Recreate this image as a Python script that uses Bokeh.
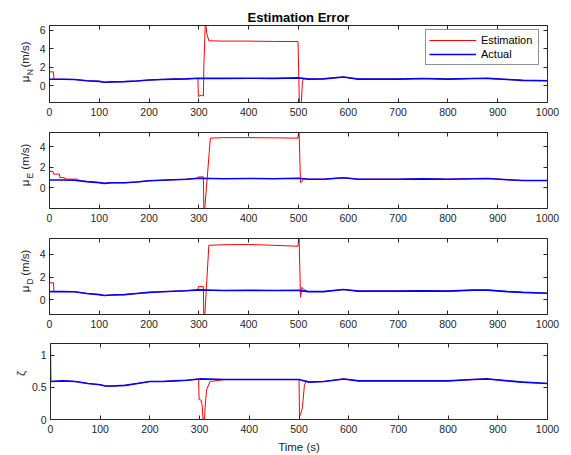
import math
from bokeh.plotting import figure
from bokeh.layouts import column, row
from bokeh.models import LinearAxis, FixedTicker, Range1d
from bokeh.core.properties import value
from bokeh.embed import file_html
from bokeh.resources import INLINE

FONT = "Liberation Sans"
AX = "#262626"
RED = "#ff0000"
BLUE = "#0000ff"

time_ticks = [0, 100, 200, 300, 400, 500, 600, 700, 800, 900, 1000]

# ---- Actual (blue) ----
t_act = [0, 25, 50, 75, 100, 110, 125, 150, 175, 200, 225, 250, 275, 300, 350, 400,
         450, 500, 520, 550, 590, 620, 650, 700, 750, 800, 850, 880, 920, 950, 1000]
muN_act = [0.70, 0.70, 0.68, 0.55, 0.48, 0.38, 0.42, 0.45, 0.52, 0.62, 0.68, 0.72, 0.75, 0.82, 0.80, 0.82,
           0.80, 0.85, 0.72, 0.75, 0.95, 0.72, 0.72, 0.72, 0.78, 0.72, 0.78, 0.80, 0.68, 0.58, 0.55]
muE_act = [0.78, 0.78, 0.75, 0.62, 0.52, 0.45, 0.50, 0.50, 0.58, 0.70, 0.75, 0.80, 0.85, 0.95, 0.90, 0.92,
           0.90, 0.95, 0.85, 0.85, 1.00, 0.85, 0.85, 0.85, 0.88, 0.85, 0.90, 0.92, 0.80, 0.72, 0.72]
muD_act = [0.72, 0.72, 0.70, 0.55, 0.45, 0.38, 0.42, 0.45, 0.55, 0.65, 0.70, 0.75, 0.80, 0.87, 0.82, 0.83,
           0.82, 0.83, 0.72, 0.72, 0.90, 0.76, 0.76, 0.76, 0.78, 0.76, 0.85, 0.85, 0.72, 0.65, 0.58]
zeta_act = [0.59, 0.60, 0.59, 0.56, 0.54, 0.52, 0.52, 0.53, 0.56, 0.59, 0.59, 0.60, 0.61, 0.63, 0.62, 0.62,
            0.62, 0.62, 0.58, 0.59, 0.63, 0.60, 0.60, 0.60, 0.60, 0.60, 0.62, 0.63, 0.60, 0.58, 0.56]

# ---- Estimation (red) ----
muN_est_t = [0, 8, 9, 25, 50, 75, 100, 110, 125, 150, 175, 200, 225, 250, 275, 298,
             299, 305, 309, 310, 313, 316, 320, 350, 400, 450, 499,
             502, 505, 508, 512, 520, 550, 590, 620, 650, 700, 750, 800, 850, 880, 920, 950, 1000]
muN_est = [1.5, 1.5, 0.70, 0.70, 0.68, 0.55, 0.48, 0.38, 0.42, 0.45, 0.52, 0.62, 0.68, 0.72, 0.75, 0.82,
           -1.15, -1.0, -1.1, 2.2, 7.0, 5.6, 4.85, 4.82, 4.82, 4.78, 4.78,
           -2.5, -2.5, 0.5, 0.8, 0.72, 0.75, 0.95, 0.72, 0.72, 0.72, 0.78, 0.72, 0.78, 0.80, 0.68, 0.58, 0.55]

muE_est_t = [0, 7, 8, 20, 21, 30, 31, 56, 62, 75, 100, 110, 125, 150, 175, 200, 225, 250, 275, 298,
             299, 309, 310, 311, 323, 350, 400, 450, 499,
             501, 504, 506, 510, 520, 550, 590, 620, 650, 700, 750, 800, 850, 880, 920, 950, 1000]
muE_est = [1.6, 1.6, 1.35, 1.35, 1.0, 1.0, 0.87, 0.85, 0.70, 0.62, 0.52, 0.45, 0.50, 0.50, 0.58, 0.70, 0.75, 0.80, 0.85, 0.95,
           1.08, 1.08, -2.5, -2.5, 4.85, 4.9, 4.9, 4.88, 4.85,
           5.8, 0.54, 0.6, 0.9, 0.85, 0.85, 1.00, 0.85, 0.85, 0.85, 0.88, 0.85, 0.90, 0.92, 0.80, 0.72, 0.72]

muD_est_t = [0, 8, 9, 25, 50, 75, 100, 110, 125, 150, 175, 200, 225, 250, 275, 298,
             299, 309, 310, 311, 320, 350, 400, 450, 499,
             501, 504, 507, 508, 515, 520, 550, 590, 620, 650, 700, 750, 800, 850, 880, 920, 950, 1000]
muD_est = [1.5, 1.5, 0.72, 0.72, 0.70, 0.55, 0.45, 0.38, 0.42, 0.45, 0.55, 0.65, 0.70, 0.75, 0.80, 0.87,
           1.16, 1.16, -2.0, -2.0, 4.8, 4.85, 4.87, 4.8, 4.72,
           5.8, 0.23, 1.1, 1.0, 0.8, 0.72, 0.72, 0.90, 0.76, 0.76, 0.76, 0.78, 0.76, 0.85, 0.85, 0.72, 0.65, 0.58]

zeta_est_t = [0, 1, 25, 50, 75, 100, 110, 125, 150, 175, 200, 225, 250, 275, 298,
              299, 303, 305, 307, 310, 311, 314, 321, 350, 400, 450, 500,
              501, 503, 505, 507, 511, 515, 520, 550, 590, 620, 650, 700, 750, 800, 850, 880, 920, 950, 1000]
zeta_est = [1.25, 0.59, 0.60, 0.59, 0.56, 0.54, 0.52, 0.52, 0.53, 0.56, 0.59, 0.59, 0.60, 0.61, 0.63,
            0.31, 0.30, 0.23, 0.0, 0.0, 0.18, 0.46, 0.59, 0.62, 0.62, 0.62, 0.62,
            0.05, 0.08, 0.12, 0.20, 0.54, 0.60, 0.58, 0.59, 0.63, 0.60, 0.60, 0.60, 0.60, 0.60, 0.62, 0.63, 0.60, 0.58, 0.56]

series_names = ["Estimation", "Actual"]
title_text = "Estimation Error"
xlabel_text = "Time (s)"
ylabel_subs = ["N", "E", "D"]

TICK_SIZE = "10.5px"
LABEL_SIZE = "11.5px"


def style_axis(ax, labels=True):
    ax.axis_line_color = AX
    ax.axis_line_width = 1
    ax.major_tick_line_color = AX
    ax.major_tick_in = 4
    ax.major_tick_out = 0
    ax.minor_tick_line_color = None
    ax.major_label_text_font = FONT
    ax.major_label_text_color = AX
    if labels:
        ax.major_label_text_font_size = TICK_SIZE
        ax.major_label_standoff = 5
    else:
        ax.major_label_text_font_size = "0px"
        ax.major_label_standoff = 0


def make_panel(w, h, left, top, bottom, yr, yticks, overrides, t_e, v_e, v_a, legend):
    p = figure(width=w, height=h, x_range=Range1d(0, 1000), y_range=Range1d(*yr),
               output_backend="svg", toolbar_location=None, tools="",
               min_border_left=left, min_border_right=24,
               min_border_top=top, min_border_bottom=bottom)
    p.grid.visible = False
    p.outline_line_color = None
    bx = p.below[0]
    ly = p.left[0]
    bx.ticker = FixedTicker(ticks=time_ticks)
    ly.ticker = FixedTicker(ticks=yticks)
    style_axis(bx)
    style_axis(ly)
    ly.major_label_standoff = 4
    if overrides:
        ly.major_label_overrides = overrides
    ta = LinearAxis(ticker=FixedTicker(ticks=time_ticks))
    style_axis(ta, labels=False)
    ta.major_label_overrides = {t: "" for t in time_ticks}
    p.add_layout(ta, "above")
    ra = LinearAxis(ticker=FixedTicker(ticks=yticks))
    style_axis(ra, labels=False)
    ra.major_label_overrides = {t: "" for t in yticks}
    p.add_layout(ra, "right")
    if legend:
        p.line(t_e, v_e, line_color=RED, line_width=1, legend_label=series_names[0])
        p.line(t_act, v_a, line_color=BLUE, line_width=1.6, legend_label=series_names[1])
    else:
        p.line(t_e, v_e, line_color=RED, line_width=1)
        p.line(t_act, v_a, line_color=BLUE, line_width=1.6)
    return p


def label_strip(w, h):
    # pixel space, y measured upward from the strip's bottom edge
    q = figure(width=w, height=h, x_range=Range1d(0, w), y_range=Range1d(0, h),
               output_backend="svg", toolbar_location=None, tools="", title=None,
               x_axis_type=None, y_axis_type=None,
               min_border_left=0, min_border_right=0, min_border_top=0, min_border_bottom=0)
    q.grid.visible = False
    q.outline_line_color = None
    return q


# start points (bottom ends) of the rotated texts, measured downward from the frame centre
D_MU, D_SUB, D_UNIT = 25.0, 14.0, 2.0


def mu_strip(w, h, cy_top, sub):
    q = label_strip(w, h)
    q.text(x=[24, 24], y=[h - (cy_top + D_MU), h - (cy_top + D_UNIT)], text=["\u03bc", "(m/s)"],
           angle=math.pi / 2, text_align="left", text_baseline="middle", text_font=value(FONT),
           text_font_size=value(LABEL_SIZE), text_color=AX)
    q.text(x=[29.5], y=[h - (cy_top + D_SUB)], text=[sub], angle=math.pi / 2,
           text_align="left", text_baseline="middle", text_font=value(FONT),
           text_font_size=value("8.5px"), text_color=AX)
    return q


yr1, yr2, yr3, yr4 = (-1.8, 6.5), (-2.0, 5.4), (-1.3, 5.4), (0.0, 1.18)

W = 571
WL = 36
WL4 = 28
H1, H2, H3, H4 = 120, 106, 106, 123

p1 = make_panel(W - WL, H1, 48 - WL, 25, 18, yr1, [0, 2, 4, 6], None, muN_est_t, muN_est, muN_act, True)
p2 = make_panel(W - WL, H2, 48 - WL, 12, 18, yr2, [0, 2, 4], None, muE_est_t, muE_est, muE_act, False)
p3 = make_panel(W - WL, H3, 48 - WL, 12, 18, yr3, [0, 2, 4], None, muD_est_t, muD_est, muD_act, False)
p4 = make_panel(W - WL4, H4, 48 - WL4, 11, 35, yr4, [0, 0.5, 1], {0: "0", 0.5: "0.5", 1: "1"},
                zeta_est_t, zeta_est, zeta_act, False)

s1 = mu_strip(WL, H1, 25 + 77 / 2, ylabel_subs[0])
s2 = mu_strip(WL, H2, 12 + 76 / 2, ylabel_subs[1])
s3 = mu_strip(WL, H3, 12 + 76 / 2, ylabel_subs[2])
s4 = label_strip(WL4, H4)
s4.text(x=[20], y=[H4 - (11 + 77 / 2 + 3)], text=["\u03b6"], angle=math.pi / 2,
        text_align="left", text_baseline="middle", text_font=value(FONT),
        text_font_size=value(LABEL_SIZE), text_color=AX)

p1.title.text = title_text
p1.title.align = "center"
p1.title.text_font = FONT
p1.title.text_font_size = "13px"
p1.title.text_font_style = "bold"
p1.title.text_color = "black"
p1.title.standoff = 1

bx4 = p4.below[0]
bx4.axis_label = xlabel_text
bx4.axis_label_text_font = FONT
bx4.axis_label_text_font_size = LABEL_SIZE
bx4.axis_label_text_font_style = "normal"
bx4.axis_label_text_color = AX
bx4.axis_label_standoff = 5

leg = p1.legend[0]
leg.location = (376, 37)
leg.label_text_font = FONT
leg.label_text_font_size = "11px"
leg.label_text_color = "black"
leg.glyph_width = 47
leg.glyph_height = 14
leg.label_height = 14
leg.label_width = 54
leg.label_standoff = 5
leg.spacing = 0
leg.padding = 3
leg.margin = 0
leg.border_line_color = AX
leg.border_line_width = 1
leg.background_fill_color = "white"
leg.background_fill_alpha = 1

layout = column(row(s1, p1), row(s2, p2), row(s3, p3), row(s4, p4))
open("out.html", "w").write(file_html(layout, INLINE))
